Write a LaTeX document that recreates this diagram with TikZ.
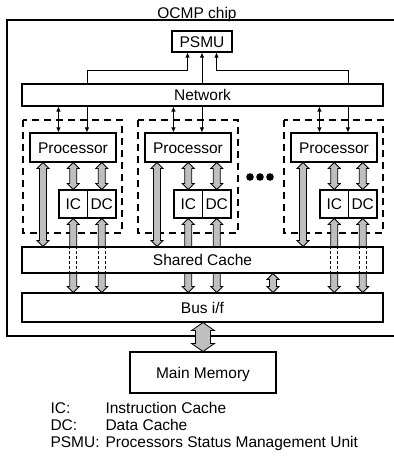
\documentclass[tikz,border=0pt]{standalone}
\usepackage{fontspec}
\setmainfont{Liberation Sans}
\usetikzlibrary{calc}
\usetikzlibrary{arrows.meta}

\tikzset{
  box/.style={draw, fill=white, line width=1.1pt, inner sep=0pt, text height=11pt, text depth=0pt},
  grp/.style={draw, dash pattern=on 7pt off 5pt, line width=1.1pt},
  sig/.style={line width=0.8pt, -{Latex[length=5pt,width=4.5pt]}},
  sigs/.style={line width=0.8pt, {Latex[length=5pt,width=4.5pt]}-{Latex[length=5pt,width=4.5pt]}},
  fat/.style={draw, fill=gray!50, line width=0.8pt},
  % heads at both ends
  fatboth/.style={fat, to path={let \p1=(\tikztostart), \p2=(\tikztotarget) in
    (\x1,\y1) -- (\x1+6pt,\y1-6pt) -- (\x1+3.5pt,\y1-6pt) -- (\x1+3.5pt,\y2+6pt) -- (\x1+6pt,\y2+6pt)
    -- (\x1,\y2) -- (\x1-6pt,\y2+6pt) -- (\x1-3.5pt,\y2+6pt) -- (\x1-3.5pt,\y1-6pt) -- (\x1-6pt,\y1-6pt) -- cycle}},
  % head at the upper end
  fatup/.style={fat, to path={let \p1=(\tikztostart), \p2=(\tikztotarget) in
    (\x1,\y1) -- (\x1+6pt,\y1-6pt) -- (\x1+3.5pt,\y1-6pt) -- (\x1+3.5pt,\y2)
    -- (\x1-3.5pt,\y2) -- (\x1-3.5pt,\y1-6pt) -- (\x1-6pt,\y1-6pt) -- cycle}},
  % head at the lower end
  fatdown/.style={fat, to path={let \p1=(\tikztostart), \p2=(\tikztotarget) in
    (\x1-3.5pt,\y1) -- (\x1+3.5pt,\y1) -- (\x1+3.5pt,\y2+6pt) -- (\x1+6pt,\y2+6pt)
    -- (\x1,\y2) -- (\x1-6pt,\y2+6pt) -- (\x1-3.5pt,\y2+6pt) -- cycle}},
  fatbig/.style={fat, to path={let \p1=(\tikztostart), \p2=(\tikztotarget) in
    (\x1,\y1) -- (\x1+11.5pt,\y1-8pt) -- (\x1+7.5pt,\y1-8pt) -- (\x1+7.5pt,\y2+8pt) -- (\x1+11.5pt,\y2+8pt)
    -- (\x1,\y2) -- (\x1-11.5pt,\y2+8pt) -- (\x1-7.5pt,\y2+8pt) -- (\x1-7.5pt,\y1-8pt) -- (\x1-11.5pt,\y1-8pt) -- cycle}},
  through/.style={line width=0.8pt, dash pattern=on 3pt off 2pt}
}

\begin{document}
\begin{tikzpicture}[x=1pt, y=-1pt, every node/.style={font=\fontsize{15.5}{18}\selectfont}]
\useasboundingbox (0,0) rectangle (394,464);

% chip outline (its right side is cut off)
\draw[line width=1.1pt] (394,20) -- (7,20) -- (7,336) -- (394,336);
\node[anchor=base] (title) at (197,18) {OCMP chip};

% processor groups
\draw[grp] (23,120) rectangle (122,233);
\draw[grp] (138,120) rectangle (238,233);
\draw[grp] (284,120) rectangle (383,233);

\node[box, minimum width=60pt, minimum height=21pt] (psmu) at (202,41.5) {PSMU};
\node[box, minimum width=361pt, minimum height=22pt] (net) at (202.5,95) {Network};

\node[box, minimum width=86pt, minimum height=29pt] (p1) at (73,147.5) {Processor};
\node[box, minimum width=86pt, minimum height=29pt] (p2) at (188,147.5) {Processor};
\node[box, minimum width=86pt, minimum height=29pt] (p3) at (334,147.5) {Processor};

\node[box, minimum width=28.5pt, minimum height=28pt] (ic1) at (73.25,204) {IC};
\node[box, minimum width=28.5pt, minimum height=28pt] (dc1) at (101.75,204) {DC};
\node[box, minimum width=28.5pt, minimum height=28pt] (ic2) at (188.25,204) {IC};
\node[box, minimum width=28.5pt, minimum height=28pt] (dc2) at (216.75,204) {DC};
\node[box, minimum width=28.5pt, minimum height=28pt] (ic3) at (334.25,204) {IC};
\node[box, minimum width=28.5pt, minimum height=28pt] (dc3) at (362.75,204) {DC};

\node[box, minimum width=361pt, minimum height=26pt] (sc) at (202.5,260) {Shared Cache};
\node[box, minimum width=361pt, minimum height=29pt] (bus) at (202.5,307.5) {Bus i/f};
\node[box, minimum width=146pt, minimum height=41pt] (mem) at (203,372.5) {Main Memory};

\fill (250,177) circle (3.8);
\fill (260,177) circle (3.8);
\fill (270,177) circle (3.8);

% network to PSMU
\coordinate (psl) at (187.5,70);
\coordinate (psr) at (216.5,70);
\draw[sig] (net.north -| dc1.west) |- (psl) -- (psl |- psmu.south);
\draw[sig] (net.north -| psmu.south) -- (psmu.south);
\draw[sig] (net.north -| dc3.west) |- (psr) -- (psr |- psmu.south);

% network to processors
\draw[sigs] (net.south -| ic1.west) -- (p1.north -| ic1.west);
\draw[sig] (net.south -| dc1.west) -- (p1.north -| dc1.west);
\draw[sigs] (net.south -| ic2.west) -- (p2.north -| ic2.west);
\draw[sig] (net.south -| dc2.west) -- (p2.north -| dc2.west);
\draw[sigs] (net.south -| ic3.west) -- (p3.north -| ic3.west);
\draw[sig] (net.south -| dc3.west) -- (p3.north -| dc3.west);

% processors to shared cache
\path[fatboth] ([xshift=-30pt]p1.south) to ([xshift=-30pt]p1.south |- sc.north);
\path[fatboth] ([xshift=-31pt]p2.south) to ([xshift=-31pt]p2.south |- sc.north);
\path[fatboth] ([xshift=-31pt]p3.south) to ([xshift=-31pt]p3.south |- sc.north);

% processors to caches
\path[fatboth] (p1.south -| ic1.north) to (ic1.north);
\path[fatboth] (p1.south -| dc1.north) to (dc1.north);
\path[fatboth] (p2.south -| ic2.north) to (ic2.north);
\path[fatboth] (p2.south -| dc2.north) to (dc2.north);
\path[fatboth] (p3.south -| ic3.north) to (ic3.north);
\path[fatboth] (p3.south -| dc3.north) to (dc3.north);

% caches to bus i/f, past the shared cache
\path[fatup] (ic1.south) to (ic1.south |- sc.north);
\path[fatup] (dc1.south) to (dc1.south |- sc.north);
\path[fatup] (ic2.south) to (ic2.south |- sc.north);
\path[fatup] (dc2.south) to (dc2.south |- sc.north);
\path[fatup] (ic3.south) to (ic3.south |- sc.north);
\path[fatup] (dc3.south) to (dc3.south |- sc.north);

\draw[through] ([xshift=-3.5pt]ic1.south |- sc.north) -- ([xshift=-3.5pt]ic1.south |- sc.south);
\draw[through] ([xshift=3.5pt]ic1.south |- sc.north) -- ([xshift=3.5pt]ic1.south |- sc.south);
\draw[through] ([xshift=-3.5pt]dc1.south |- sc.north) -- ([xshift=-3.5pt]dc1.south |- sc.south);
\draw[through] ([xshift=3.5pt]dc1.south |- sc.north) -- ([xshift=3.5pt]dc1.south |- sc.south);
\draw[through] ([xshift=-3.5pt]ic3.south |- sc.north) -- ([xshift=-3.5pt]ic3.south |- sc.south);
\draw[through] ([xshift=3.5pt]ic3.south |- sc.north) -- ([xshift=3.5pt]ic3.south |- sc.south);
\draw[through] ([xshift=-3.5pt]dc3.south |- sc.north) -- ([xshift=-3.5pt]dc3.south |- sc.south);
\draw[through] ([xshift=3.5pt]dc3.south |- sc.north) -- ([xshift=3.5pt]dc3.south |- sc.south);

\path[fatdown] (sc.south -| ic1.south) to (bus.north -| ic1.south);
\path[fatdown] (sc.south -| dc1.south) to (bus.north -| dc1.south);
\path[fatdown] (sc.south -| ic2.south) to (bus.north -| ic2.south);
\path[fatdown] (sc.south -| dc2.south) to (bus.north -| dc2.south);
\path[fatdown] (sc.south -| ic3.south) to (bus.north -| ic3.south);
\path[fatdown] (sc.south -| dc3.south) to (bus.north -| dc3.south);

\path[fatboth] ([xshift=70.5pt]sc.south) to ([xshift=70.5pt]bus.north);
\path[fatbig] (bus.south -| mem.north) to (mem.north);

% legend
\node[anchor=base west] (kic) at (47,413) {IC:};
\node[anchor=base west] (vic) at (102,413) {Instruction Cache};
\node[anchor=base west] (kdc) at (47,430) {DC:};
\node[anchor=base west] (vdc) at (102,430) {Data Cache};
\node[anchor=base west] (kps) at (47,447) {PSMU:};
\node[anchor=base west] (vps) at (102,447) {Processors Status Management Unit};
\end{tikzpicture}
\end{document}
